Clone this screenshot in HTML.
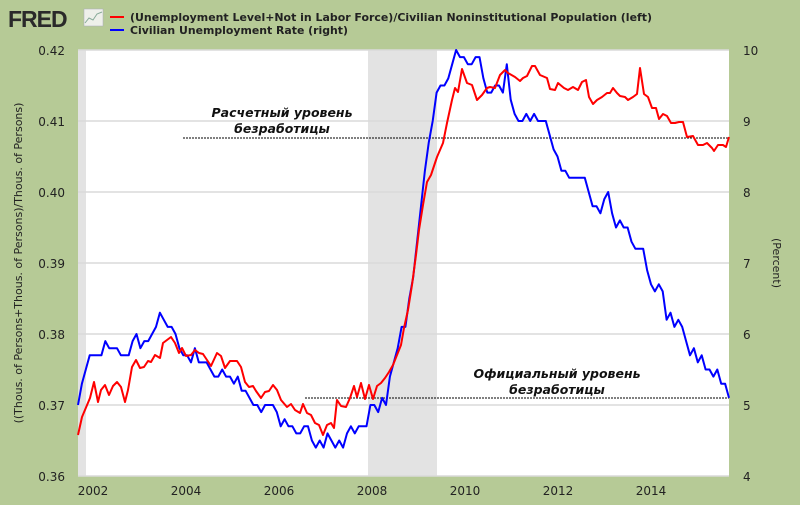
<!DOCTYPE html>
<html><head><meta charset="utf-8"><style>
body{margin:0;background:#b6ca96;}
svg{display:block;font-family:"DejaVu Sans","Liberation Sans",sans-serif;}
</style></head><body>
<svg id="s" width="800" height="505" viewBox="0 0 800 505">
<rect width="800" height="505" fill="#b6ca96"/>
<text x="8" y="27" font-size="23" font-weight="bold" fill="#2a2a2a" font-family="Liberation Sans, sans-serif" letter-spacing="-1">FRED</text>
<rect x="84" y="9" width="19" height="17" fill="#eef0ea" stroke="#aab" stroke-width="0.5"/>
<polyline points="85,23 89,18 93,20 97,14 102,12" fill="none" stroke="#8a9" stroke-width="1"/>
<line x1="110" y1="17" x2="124" y2="17" stroke="#f00" stroke-width="2"/>
<line x1="110" y1="30" x2="124" y2="30" stroke="#00f" stroke-width="2"/>
<text x="130" y="21" font-size="11" font-weight="bold" fill="#222" textLength="522" lengthAdjust="spacingAndGlyphs">(Unemployment Level+Not in Labor Force)/Civilian Noninstitutional Population (left)</text>
<text x="130" y="34" font-size="11" font-weight="bold" fill="#222" textLength="218" lengthAdjust="spacingAndGlyphs">Civilian Unemployment Rate (right)</text>
<rect x="78" y="50" width="651" height="426" fill="#fff"/>
<rect x="78" y="50" width="8" height="426" fill="#e3e3e3"/>
<rect x="368" y="50" width="69" height="426" fill="#e3e3e3"/>
<g stroke="#dadada" stroke-width="1.5">
<line x1="78" y1="50" x2="729" y2="50"/><line x1="78" y1="121" x2="729" y2="121"/>
<line x1="78" y1="192" x2="729" y2="192"/><line x1="78" y1="263" x2="729" y2="263"/>
<line x1="78" y1="334" x2="729" y2="334"/><line x1="78" y1="405" x2="729" y2="405"/>
<line x1="78" y1="476" x2="729" y2="476"/>
</g>
<g font-size="12" fill="#222" text-anchor="end">
<text x="65" y="55">0.42</text><text x="65" y="126">0.41</text><text x="65" y="197">0.40</text>
<text x="65" y="268">0.39</text><text x="65" y="339">0.38</text><text x="65" y="410">0.37</text><text x="65" y="481">0.36</text>
</g>
<g font-size="12" fill="#222">
<text x="743" y="55">10</text><text x="743" y="126">9</text><text x="743" y="197">8</text>
<text x="743" y="268">7</text><text x="743" y="339">6</text><text x="743" y="410">5</text><text x="743" y="481">4</text>
</g>
<g font-size="12" fill="#222" text-anchor="middle">
<text x="93" y="495">2002</text><text x="186" y="495">2004</text><text x="279" y="495">2006</text>
<text x="372" y="495">2008</text><text x="465" y="495">2010</text><text x="558" y="495">2012</text><text x="651" y="495">2014</text>
</g>
<text transform="translate(22,263) rotate(-90)" font-size="11" fill="#222" text-anchor="middle">((Thous. of Persons+Thous. of Persons)/Thous. of Persons)</text>
<text transform="translate(773,263) rotate(90)" font-size="11" fill="#222" text-anchor="middle">(Percent)</text>
<line x1="183" y1="138" x2="729" y2="138" stroke="#000" stroke-width="1" stroke-dasharray="2,1"/>
<line x1="305" y1="398" x2="729" y2="398" stroke="#000" stroke-width="1" stroke-dasharray="2,1"/>
<g font-size="12.5" font-weight="bold" font-style="italic" fill="#111" text-anchor="middle">
<text x="282" y="117">Расчетный уровень</text><text x="282" y="133">безработицы</text>
<text x="557" y="378">Официальный уровень</text><text x="557" y="394">безработицы</text>
</g>
<polyline id="blue" fill="none" stroke="#00f" stroke-width="2" stroke-linejoin="round"/>
<polyline fill="none" stroke="#f00" stroke-width="2" stroke-linejoin="round" points="78,435 82,417 90,398 94,382 98,402 101,390 105,385 109,395 113,386 117,382 121,387 125,402 128,390 132,367 136,360 140,368 144,367 148,361 151,362 155,355 160,358 163,343 171,337 175,343 179,353 182,348 186,356 191,355 195,350 199,353 203,354 207,360 211,366 217,353 221,356 225,368 230,361 237,361 241,367 245,382 249,387 253,386 256,391 261,398 265,392 269,391 273,385 277,390 281,400 287,407 291,404 295,410 300,413 303,404 307,413 311,415 315,423 319,425 323,435 327,425 331,423 334,428 337,400 341,406 346,407 350,398 354,386 357,397 361,383 365,399 369,385 373,399 377,386 381,383 385,378 389,372 393,365 397,355 401,345 404,328 408,310 412,285 416,255 419,230 423,205 427,182 431,175 437,157 443,143 447,123 452,100 455,88 458,92 462,69 467,83 472,85 477,100 482,95 487,88 490,87 495,88 500,75 505,70 508,73 515,77 520,81 523,78 527,76 532,66 535,66 540,75 547,78 550,89 555,90 558,83 564,88 568,90 573,87 578,90 582,82 586,80 589,97 593,104 597,100 602,97 607,93 610,93 613,88 617,93 620,96 625,97 628,100 633,97 637,94 640,68 644,94 648,97 652,108 656,108 659,119 663,114 667,116 671,123 675,123 679,122 683,122 687,137 693,136 698,145 703,145 707,143 712,148 714,151 718,145 723,145 726,147 729,137"/>
</svg>
<script>
var v=[5.0,5.3,5.5,5.7,
5.7,5.7,5.7,5.9,5.8,5.8,5.8,5.7,5.7,5.7,5.9,6.0,
5.8,5.9,5.9,6.0,6.1,6.3,6.2,6.1,6.1,6.0,5.8,5.7,
5.7,5.6,5.8,5.6,5.6,5.6,5.5,5.4,5.4,5.5,5.4,5.4,
5.3,5.4,5.2,5.2,5.1,5.0,5.0,4.9,5.0,5.0,5.0,4.9,
4.7,4.8,4.7,4.7,4.6,4.6,4.7,4.7,4.5,4.4,4.5,4.4,
4.6,4.5,4.4,4.5,4.4,4.6,4.7,4.6,4.7,4.7,4.7,5.0,
5.0,4.9,5.1,5.0,5.4,5.6,5.8,6.1,6.1,6.5,6.8,7.3,
7.8,8.3,8.7,9.0,9.4,9.5,9.5,9.6,9.8,10.0,9.9,9.9,
9.8,9.8,9.9,9.9,9.6,9.4,9.4,9.5,9.5,9.4,9.8,9.3,
9.1,9.0,9.0,9.1,9.0,9.1,9.0,9.0,9.0,8.8,8.6,8.5,
8.3,8.3,8.2,8.2,8.2,8.2,8.2,8.0,7.8,7.8,7.7,7.9,
8.0,7.7,7.5,7.6,7.5,7.5,7.3,7.2,7.2,7.2,6.9,6.7,
6.6,6.7,6.6,6.2,6.3,6.1,6.2,6.1,5.9,5.7,5.8,5.6,
5.7,5.5,5.5,5.4,5.5,5.3,5.3,5.1];
var st=651/(v.length-1),p=[];
for(var i=0;i<v.length;i++){p.push((78+i*st).toFixed(1)+","+(476-(v[i]-4)*71).toFixed(1));}
document.getElementById("blue").setAttribute("points",p.join(" "));
</script>
</body></html>
